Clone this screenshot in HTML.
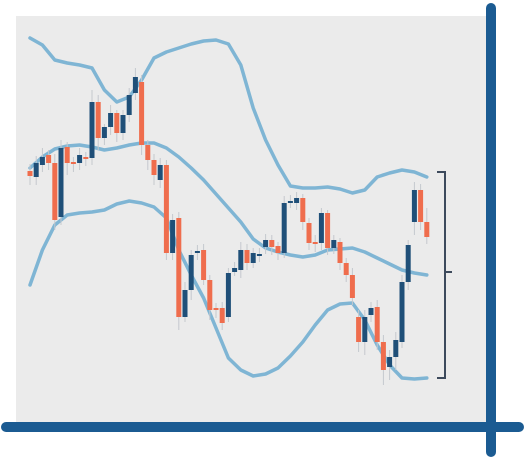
<!DOCTYPE html>
<html><head><meta charset="utf-8"><style>
html,body{margin:0;padding:0;background:#fff;}
svg{display:block;}
</style></head><body>
<svg id="chart" width="527" height="463" viewBox="0 0 527 463">
<rect x="16" y="16" width="470" height="410" fill="#ebebeb"/>
<g id="bands"></g>
<g id="candles"></g>
<path d="M437 172 H445 V378 H437 M445 272 H452" fill="none" stroke="#3d4a5c" stroke-width="2"/>
<line x1="491" y1="8" x2="491" y2="452" stroke="#1b5b92" stroke-width="10" stroke-linecap="round"/>
<line x1="6" y1="427" x2="519" y2="427" stroke="#1b5b92" stroke-width="10" stroke-linecap="round"/>
</svg>
<script>
const opens=[269,263,275,285,277,223,293,278,277,283,282,338,302,313,327,307,325,347,358,295,280,260,275,187,222,123,150,187,190,160,132,132,123,168,170,190,177,184,193,200,194,187,237,237,242,217,198,197,227,192,198,177,165,123,98,125,133,98,73,83,98,158,218,250,218];
const closes=[264,277,283,277,220,292,277,276,285,281,338,302,313,327,307,325,345,363,295,280,265,275,187,220,123,150,185,189,160,130,130,117,167,172,190,177,187,186,200,193,187,237,239,242,218,197,196,227,192,200,177,165,142,98,123,132,98,70,83,100,158,195,250,218,203];
const highs=[276,284,292,290,286,300,298,283,292,288,350,345,316,335,330,330,352,372,365,300,286,282,280,226,228,158,190,195,196,165,137,138,172,178,198,196,192,192,206,205,198,244,245,248,246,222,205,232,230,205,202,182,172,130,130,138,140,105,90,108,165,200,258,256,232];
const lows=[255,255,268,270,210,215,265,268,270,274,275,290,295,305,298,300,318,340,285,270,255,252,180,180,110,118,140,180,155,120,122,110,118,164,162,170,172,178,186,185,180,182,232,230,210,190,188,190,185,186,170,158,135,88,85,118,90,55,60,70,92,150,205,210,196];
const bandT=[0,2,4,6,8,10,12,14,16,18,20,22,24,26,28,30,32,34,36,38,40,42,44,46,48,50,52,54,56,58,60,62,64];
const upper=[402,395,380,377,375,372,350,338,343,360,382,388,392,396,399,400,396,375,332,300,275,254,252,252,253,251,247,250,263,267,270,268,263];
const middle=[272,283,291,294,295,293,290,292,295,297,297,292,283,272,260,246,232,218,201,192,188,185,183,185,190,191,192,188,182,176,170,167,165];
const lower=[155,190,215,225,227,228,230,236,239,237,233,222,190,165,142,112,82,70,64,66,72,84,98,115,130,136,137,120,95,75,62,61,62];
const X=t=>30+t*6.2;
const Y=v=>440-v;
const NS='http://www.w3.org/2000/svg';
const bands=document.getElementById('bands');
function drawBand(arr,name){
  const p=document.createElementNS(NS,'path');
  let d='';
  for(let i=0;i<arr.length;i++){d+=(i?'L':'M')+X(bandT[i]).toFixed(1)+' '+Y(arr[i]).toFixed(1)+' ';}
  p.setAttribute('d',d);
  p.setAttribute('fill','none');
  p.setAttribute('stroke','#7fb5d4');
  p.setAttribute('stroke-width','3.5');
  p.setAttribute('stroke-linejoin','round');
  p.setAttribute('stroke-linecap','round');
  
  
  bands.appendChild(p);
}
drawBand(upper,'upper-band');
drawBand(middle,'middle-band');
drawBand(lower,'lower-band');
const cg=document.getElementById('candles');
for(let i=0;i<opens.length;i++){
  const up=closes[i]>=opens[i];
  const col=up?'#1f4f78':'#ef6d4d';
  const x=X(i);
  const w=document.createElementNS(NS,'line');
  w.setAttribute('x1',x);w.setAttribute('x2',x);
  w.setAttribute('y1',Y(highs[i]));w.setAttribute('y2',Y(lows[i]));
  w.setAttribute('stroke','#c4c8ce');w.setAttribute('stroke-width','1');
  
  
  cg.appendChild(w);
  const r=document.createElementNS(NS,'rect');
  const top=Y(Math.max(opens[i],closes[i])),bot=Y(Math.min(opens[i],closes[i]));
  r.setAttribute('x',x-2.5);r.setAttribute('width',5);
  r.setAttribute('y',top);r.setAttribute('height',Math.max(2,bot-top));
  r.setAttribute('fill',col);
  
  
  cg.appendChild(r);
}
</script>
</body></html>
